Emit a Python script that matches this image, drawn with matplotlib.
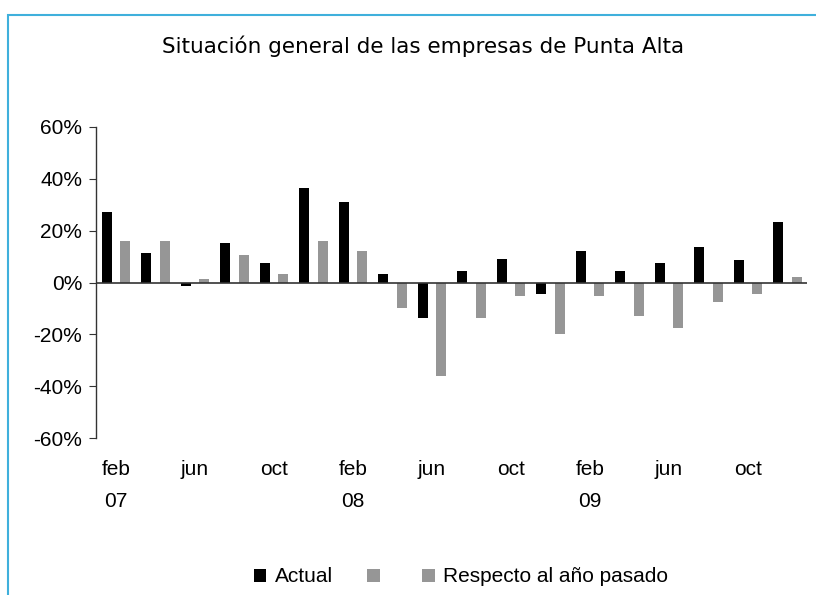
import matplotlib
matplotlib.use("Agg")
import matplotlib.pyplot as plt
from matplotlib.patches import Patch, Rectangle
import numpy as np

categories = ["feb 07", "abr 07", "jun 07", "ago 07", "oct 07", "dic 07",
              "feb 08", "abr 08", "jun 08", "ago 08", "oct 08", "dic 08",
              "feb 09", "abr 09", "jun 09", "ago 09", "oct 09", "dic 09"]
actual = [27.3, 11.5, -1.5, 15.4, 7.7, 36.5, 31.2, 3.1, -13.8,
          4.6, 9.2, -4.6, 12.3, 4.6, 7.7, 13.8, 8.5, 23.5]
respecto = [16.2, 16.2, 1.5, 10.8, 3.1, 16.2, 12.3, -10.0, -36.2,
            -13.8, -5.4, -20.0, -5.4, -13.1, -17.7, -7.7, -4.6, 2.3]
tick_idx = [0, 2, 4, 6, 8, 10, 12, 14, 16]
tick_labels = ["feb\n07", "jun", "oct", "feb\n08", "jun", "oct", "feb\n09", "jun", "oct"]
yticks = [-60, -40, -20, 0, 20, 40, 60]

BLACK = "#000000"
GRAY = "#969696"
FONT = "Liberation Sans"
FS = 15

fig = plt.figure(figsize=(8.16, 5.95), dpi=100)
W, H = 816, 595

# blue frame
fig.patches.append(Rectangle((8 / W, -0.1), 1.2, 1 - 15 / H + 0.1,
                             transform=fig.transFigure, fill=False,
                             edgecolor="#3FB0DC", linewidth=1.5))

ax = fig.add_axes([96 / W, 1 - 438 / H, (807 - 96) / W, (438 - 127) / H])
x = np.arange(len(categories))
bw = 0.26
ax.bar(x - 0.225, actual, width=bw, color=BLACK)
ax.bar(x + 0.24, respecto, width=bw, color=GRAY)

ax.set_xlim(-0.5, len(categories) - 0.5)
ax.set_ylim(-60, 60)
ax.axhline(0, color="#333333", linewidth=1.2, zorder=3)

for s in ["top", "right", "bottom"]:
    ax.spines[s].set_visible(False)
ax.spines["left"].set_color("#333333")
ax.spines["left"].set_linewidth(1.0)

ax.set_yticks(yticks)
ax.set_yticklabels([f"{v}%" for v in yticks], fontsize=FS, family=FONT)
ax.tick_params(axis="y", direction="out", length=5, color="#333333", pad=5)

ax.set_xticks(tick_idx)
ax.set_xticklabels(tick_labels, fontsize=FS, family=FONT, linespacing=1.85)
ax.tick_params(axis="x", length=0, pad=16)

fig.text(423 / W, 1 - 46 / H, "Situación general de las empresas de Punta Alta",
         ha="center", va="center", fontsize=15.5, family="DejaVu Sans")

handles = [Patch(facecolor=BLACK), Patch(facecolor=GRAY), Patch(facecolor=GRAY)]
labels = ["Actual", "", "Respecto al año pasado"]
fig.legend(handles, labels, loc="center", bbox_to_anchor=(461 / W, 1 - 577 / H),
           ncol=3, frameon=False, handlelength=0.6, handleheight=0.6,
           handletextpad=0.4, columnspacing=1.65,
           prop={"family": FONT, "size": FS})

fig.savefig("out.png", dpi=100)
